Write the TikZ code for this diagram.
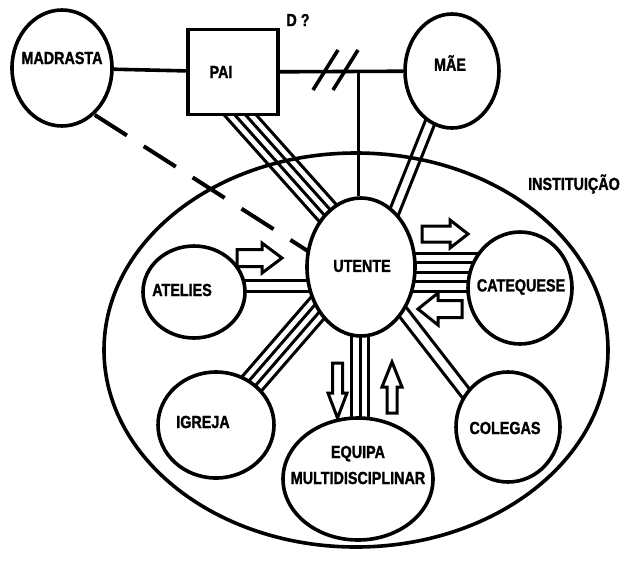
\documentclass[tikz,border=0pt]{standalone}
\usepackage{fontspec}
\setmainfont{Liberation Sans}[FakeStretch=0.82]
\newfontfamily\rotulo{Liberation Sans Bold}[FakeStretch=0.82,FakeBold=1.4]
\usetikzlibrary{calc,shapes.geometric}
\pgfdeclarelayer{fundo}\pgfsetlayers{fundo,main}
\tikzset{circ/.style={ellipse,draw,fill=white,line width=3.6pt,inner sep=0pt},txt/.style={font=\fontsize{17.5}{19}\selectfont\rotulo,inner sep=0pt,align=center},lig/.style={line width=3pt},linha/.style={line width=3.6pt}}
\newcommand{\ligacao}[4]{\foreach \k in {1,...,#3}{\draw[lig] ($(#1)!{(\k-(#3+1)/2)*#4pt}!90:(#2)$) -- ($(#2)!{(\k-(#3+1)/2)*#4pt}!-90:(#1)$);}}
\newcommand{\seta}[7]{\begin{scope}[shift={(#1,#2)},rotate=#3]\draw[line width=3pt,fill=white] (-#4/2,-#6/2)--(#4/2-#7,-#6/2)--(#4/2-#7,-#5/2)--(#4/2,0)--(#4/2-#7,#5/2)--(#4/2-#7,#6/2)--(-#4/2,#6/2)--cycle;\end{scope}}
\begin{document}
\begin{tikzpicture}[x=1pt,y=-1pt]
\useasboundingbox (0,0) rectangle (623,560);
\node[circ,minimum width=100pt,minimum height=116pt] (madrasta) at (62,68){};
\node[draw,fill=white,line width=3.6pt,minimum width=90pt,minimum height=85pt] (pai) at (233,72){};
\node[circ,minimum width=94pt,minimum height=114pt] (mae) at (452,71){};
\node[circ,minimum width=108pt,minimum height=138pt] (utente) at (361,267){};
\node[circ,minimum width=102pt,minimum height=92pt] (atelies) at (194,292){};
\node[circ,minimum width=104pt,minimum height=112pt] (catequese) at (520,288){};
\node[circ,minimum width=116pt,minimum height=106pt] (igreja) at (216,425){};
\node[circ,minimum width=150pt,minimum height=122pt] (equipa) at (358,479){};
\node[circ,minimum width=104pt,minimum height=110pt] (colegas) at (508,427){};
\coordinate (filho) at (358,70);
\node[txt] (tmadrasta) at (62,58){MADRASTA};
\node[txt] (tpai) at (221,72){PAI};
\node[txt] (tmae) at (450,63){MÃE};
\node[txt] (tutente) at (362,266){UTENTE};
\node[txt] (tatelies) at (182,290){ATELIES};
\node[txt] (tcatequese) at (521,287){CATEQUESE};
\node[txt] (tigreja) at (203,422){IGREJA};
\node[txt] (tequipa) at (358,465){EQUIPA\\[7pt]MULTIDISCIPLINAR};
\node[txt] (tcolegas) at (505,428){COLEGAS};
\node[txt] (tdiv) at (298,20){D ?};
\node[txt] (tinst) at (574,184){INSTITUIÇÃO};
\begin{pgfonlayer}{fundo}
\draw[linha] (356,350) ellipse [x radius=252pt,y radius=197pt];
\draw[linha] (madrasta) -- (pai) -- (mae);
\draw[lig] (filho) -- (filho |- utente.north);
\foreach \s in {0,20}{\draw[linha] (313+\s,90) -- (338+\s,50);}
\draw[line width=4pt,dash pattern=on 38pt off 20pt,dash phase=19pt] ([yshift=-26pt]madrasta.center) -- ([yshift=-18pt]utente.center);
\ligacao{[xshift=-24pt,yshift=-8pt]pai.center}{[xshift=15pt]utente.center}{4}{8}
\ligacao{[xshift=-13pt,yshift=-29pt]mae.center}{[xshift=22pt,yshift=27pt]utente.center}{2}{10}
\ligacao{[yshift=6.5pt]atelies.center}{[yshift=-18.5pt]utente.center}{2}{11}
\ligacao{[yshift=16pt]catequese.center}{[yshift=-5pt]utente.center}{5}{9.5}
\ligacao{igreja.center}{[xshift=-8pt]utente.center}{4}{8}
\ligacao{[xshift=2pt]equipa.center}{[xshift=-1pt]utente.center}{3}{8.5}
\ligacao{[xshift=-16pt]colegas.center}{[xshift=7pt]utente.center}{2}{11}
\end{pgfonlayer}
\seta{259.5}{258}{0}{45}{30}{17}{20}
\seta{445}{234}{0}{46}{28}{16}{18}
\seta{440}{309}{180}{44}{32}{17}{20}
\seta{337.5}{390.5}{-90}{55}{19}{10}{25}
\seta{392}{387.5}{90}{51}{20}{10}{25}
\end{tikzpicture}
\end{document}
